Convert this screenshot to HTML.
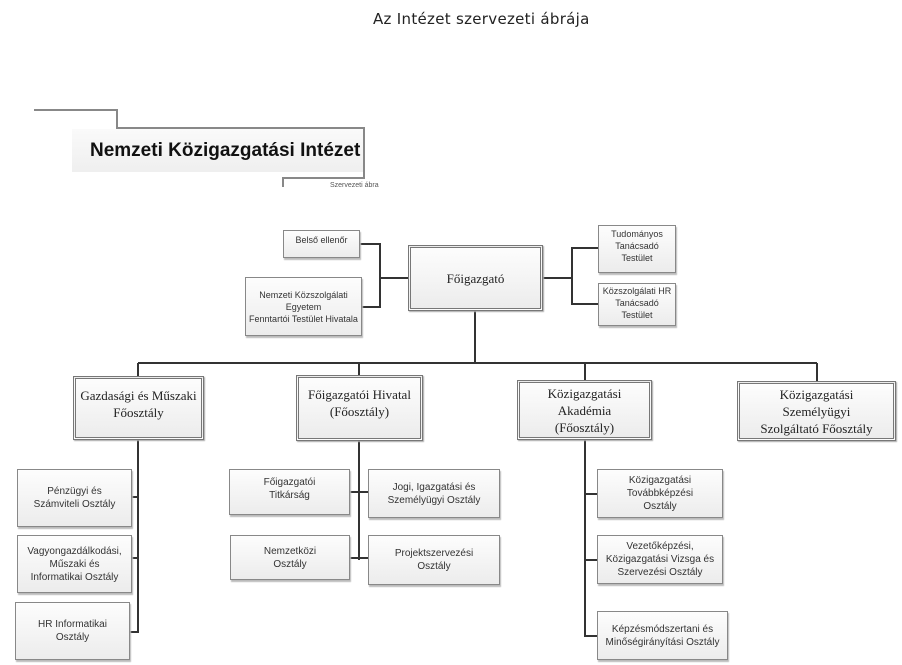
<!DOCTYPE html>
<html><head><meta charset="utf-8"><style>
body{margin:0;width:902px;height:665px;background:#fff;position:relative;overflow:hidden;font-family:"Liberation Sans",sans-serif}
.b{position:absolute;box-sizing:border-box;border:1px solid #888;background:linear-gradient(#fdfdfd,#ececec);box-shadow:1px 2px 1px #bbb;display:flex;align-items:center;justify-content:center;text-align:center;font-size:10px;color:#333;line-height:13px;white-space:nowrap}
.s{font-family:"Liberation Serif",serif;font-size:13px;line-height:17px;color:#222;border:3px double #777;box-shadow:1px 1px 1px #aaa}
svg{position:absolute;left:0;top:0}
</style></head><body>
<div style="position:absolute;left:373px;top:10px;font-family:'DejaVu Sans',sans-serif;font-size:15px;color:#222;letter-spacing:0.3px;white-space:nowrap">Az Intézet szervezeti ábrája</div>
<svg width="902" height="665">
<g fill="none" stroke="#888" stroke-width="2">
<polyline points="34,110 117,110 117,128 364,128 364,178 283,178 283,187"/>
</g>
<g fill="none" stroke="#333" stroke-width="2">
<polyline points="360,244 380,244 380,307 362,307"/>
<line x1="380" y1="278" x2="408" y2="278"/>
<line x1="543" y1="278" x2="572" y2="278"/>
<polyline points="598,248 572,248 572,304 598,304"/>
<line x1="475" y1="311" x2="475" y2="363"/>
<line x1="138" y1="363" x2="817" y2="363"/>
<line x1="138" y1="363" x2="138" y2="376"/>
<line x1="359" y1="363" x2="359" y2="375"/>
<line x1="585" y1="363" x2="585" y2="380"/>
<line x1="817" y1="363" x2="817" y2="381"/>
<polyline points="138,440 138,632 130,632"/>
<line x1="132" y1="497" x2="138" y2="497"/>
<line x1="132" y1="558" x2="138" y2="558"/>
<line x1="359" y1="441" x2="359" y2="560"/>
<line x1="350" y1="492" x2="368" y2="492"/>
<line x1="350" y1="558" x2="368" y2="558"/>
<polyline points="585,440 585,636 597,636"/>
<line x1="585" y1="494" x2="597" y2="494"/>
<line x1="585" y1="560" x2="597" y2="560"/>
</g>
</svg>
<div style="position:absolute;left:72px;top:129px;width:291px;height:43px;background:linear-gradient(#fafafa,#efefef);font-family:'Liberation Sans',sans-serif;font-weight:bold;font-size:19px;color:#111;line-height:43px;padding-left:18px;box-sizing:border-box;white-space:nowrap">Nemzeti Közigazgatási Intézet</div>
<div style="position:absolute;left:330px;top:182px;font-size:7px;color:#555;white-space:nowrap">Szervezeti ábra</div>

<div class="b" style="left:283px;top:230px;width:77px;height:28px;align-items:flex-start;padding-top:3px;font-size:9px">Belső ellenőr</div>
<div class="b" style="left:245px;top:277px;width:117px;height:59px;font-size:9px;line-height:12px">Nemzeti Közszolgálati<br>Egyetem<br>Fenntartói Testület Hivatala</div>
<div class="b s" style="left:408px;top:245px;width:135px;height:66px">Főigazgató</div>
<div class="b" style="left:598px;top:225px;width:78px;height:48px;align-items:flex-start;padding-top:2px;font-size:9px;line-height:12px">Tudományos<br>Tanácsadó<br>Testület</div>
<div class="b" style="left:598px;top:283px;width:78px;height:43px;align-items:flex-start;padding-top:1px;font-size:9px;line-height:12px">Közszolgálati HR<br>Tanácsadó<br>Testület</div>

<div class="b s" style="left:73px;top:376px;width:131px;height:64px;align-items:flex-start;padding-top:8px">Gazdasági és Műszaki<br>Főosztály</div>
<div class="b s" style="left:296px;top:375px;width:127px;height:66px;align-items:flex-start;padding-top:8px">Főigazgatói Hivatal<br>(Főosztály)</div>
<div class="b s" style="left:517px;top:380px;width:135px;height:60px">Közigazgatási<br>Akadémia<br>(Főosztály)</div>
<div class="b s" style="left:737px;top:381px;width:159px;height:60px">Közigazgatási<br>Személyügyi<br>Szolgáltató Főosztály</div>

<div class="b" style="left:17px;top:469px;width:115px;height:58px">Pénzügyi és<br>Számviteli Osztály</div>
<div class="b" style="left:17px;top:535px;width:115px;height:58px">Vagyongazdálkodási,<br>Műszaki és<br>Informatikai Osztály</div>
<div class="b" style="left:15px;top:602px;width:115px;height:58px">HR Informatikai<br>Osztály</div>

<div class="b" style="left:229px;top:469px;width:121px;height:46px;align-items:flex-start;padding-top:6px">Főigazgatói<br>Titkárság</div>
<div class="b" style="left:230px;top:535px;width:120px;height:45px">Nemzetközi<br>Osztály</div>
<div class="b" style="left:368px;top:469px;width:132px;height:49px">Jogi, Igazgatási és<br>Személyügyi Osztály</div>
<div class="b" style="left:368px;top:535px;width:132px;height:50px">Projektszervezési<br>Osztály</div>

<div class="b" style="left:597px;top:469px;width:126px;height:49px">Közigazgatási<br>Továbbképzési<br>Osztály</div>
<div class="b" style="left:597px;top:535px;width:126px;height:49px">Vezetőképzési,<br>Közigazgatási Vizsga és<br>Szervezési Osztály</div>
<div class="b" style="left:597px;top:611px;width:131px;height:49px">Képzésmódszertani és<br>Minőségirányítási Osztály</div>
</body></html>
